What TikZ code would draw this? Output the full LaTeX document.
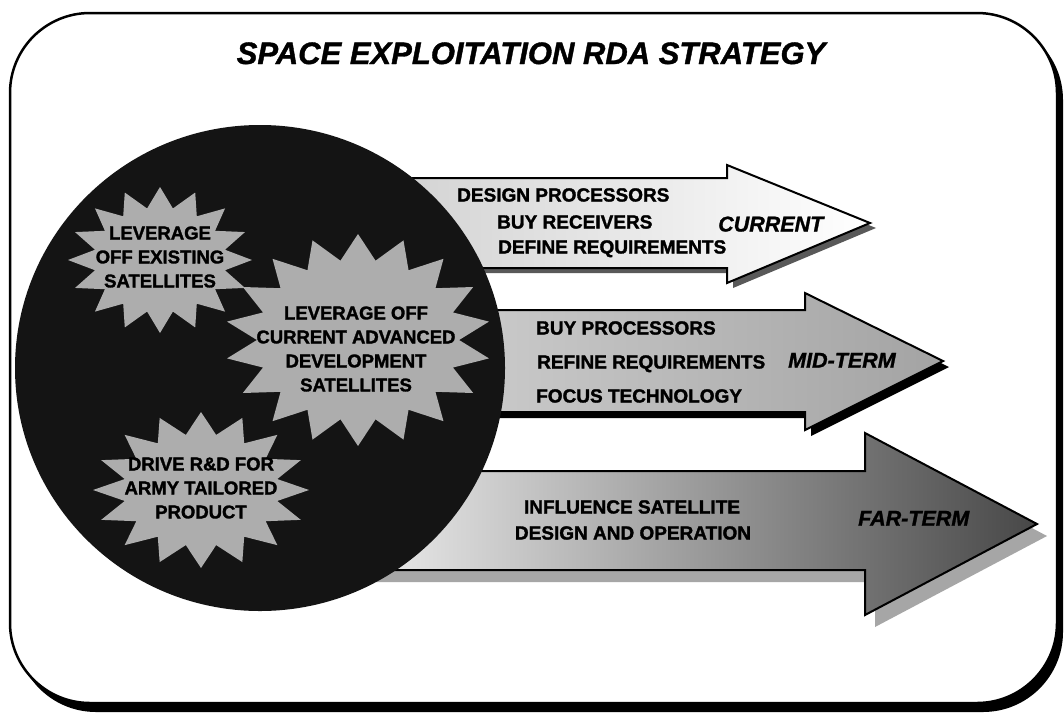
\documentclass[tikz,border=0pt]{standalone}
\usepackage{fontspec}
\setmainfont{Liberation Sans}
\newfontfamily\heavy[FakeBold=1.6]{Liberation Sans Bold}
\newfontfamily\heavyit[FakeBold=1.2]{Liberation Sans Bold Italic}
\usetikzlibrary{shapes.geometric}
\newcommand\mystar[7]{% cx cy rx ry 2n ratio phase
  \fill[starfill] ({#1+#3*cos(#7)},{#2+#4*sin(#7)})
    \foreach \k in {1,...,#5}{ -- ({#1+#3*ifthenelse(isodd(\k),#6,1)*cos(#7+\k*360/#5)},{#2+#4*ifthenelse(isodd(\k),#6,1)*sin(#7+\k*360/#5)}) } -- cycle;}
\begin{document}
\begin{tikzpicture}[x=1pt,y=-1pt,
  starfill/.style={fill=black!32},
  lbl/.style={font=\heavy\fontsize{19}{22}\selectfont, inner sep=0pt, anchor=base west},
  ctrlbl/.style={font=\heavy\fontsize{19}{22}\selectfont, inner sep=0pt, anchor=base},
  startxt/.style={font=\heavy\fontsize{18.5}{24}\selectfont, align=center, inner sep=0pt},
  term/.style={font=\heavyit\fontsize{21.5}{24}\selectfont, inner sep=0pt, anchor=base west},
  arrowline/.style={draw=black, line width=2pt, line join=miter},
]
\useasboundingbox (0,0) rectangle (1064,715);
% frame with shadow
\fill[black, rounded corners=80pt] (16,20) rectangle (1063,712);
\draw[line width=2.5pt, fill=white, rounded corners=80pt] (10,13) rectangle (1057,703);
% title
\node[font=\heavyit\fontsize{31}{36}\selectfont, inner sep=0pt, anchor=base] (title) at (531,64) {SPACE EXPLOITATION RDA STRATEGY};
% arrow 3 (far-term)
\fill[black!35] (360,483) -- (875,483) -- (875,445) -- (1047,536) -- (875,627) -- (875,582) -- (360,582) -- cycle;
\draw[arrowline, left color=black!6, right color=black!72] (350,471) -- (865,471) -- (865,433) -- (1037,524) -- (865,615) -- (865,570) -- (350,570) -- cycle;
% arrow 2 (mid-term)
\fill[black] (456,316) -- (811,316) -- (811,299) -- (949,367) -- (811,436) -- (811,418) -- (456,418) -- cycle;
\draw[arrowline, left color=black!20, right color=black!36] (450,310) -- (805,310) -- (805,293) -- (943,361) -- (805,430) -- (805,412) -- (450,412) -- cycle;
% arrow 1 (current)
\fill[black!65] (386,183) -- (733,183) -- (733,170) -- (876,228) -- (733,288) -- (733,273) -- (386,273) -- cycle;
\draw[arrowline, left color=black!18, middle color=white, right color=white] (380,178) -- (727,178) -- (727,165) -- (870,223) -- (727,283) -- (727,268) -- (380,268) -- cycle;
% dark disc
\fill[black!92] (260,368) ellipse [x radius=245, y radius=243];
% starbursts
\mystar{160}{260}{92}{73}{32}{0.72}{90}
\mystar{358}{340}{133}{106}{36}{0.76}{90}
\mystar{201}{490}{108}{78}{32}{0.72}{90}
% star texts
\node[startxt] (s1) at (160,257) {LEVERAGE\\OFF EXISTING\\SATELLITES};
\node[startxt] (s2) at (356,349) {LEVERAGE OFF\\CURRENT ADVANCED\\DEVELOPMENT\\SATELLITES};
\node[startxt] (s3) at (201,488) {DRIVE R\&D FOR\\ARMY TAILORED\\PRODUCT};
% arrow 1 texts
\node[lbl] (a1) at (457,201.5) {DESIGN PROCESSORS};
\node[lbl] (a2) at (497,228.5) {BUY RECEIVERS};
\node[lbl] (a3) at (498,253.5) {DEFINE REQUIREMENTS};
\node[term] (cur) at (718,231.5) {CURRENT};
% arrow 2 texts
\node[lbl] (b1) at (536,334.5) {BUY PROCESSORS};
\node[lbl] (b2) at (537,368.5) {REFINE REQUIREMENTS};
\node[lbl] (b3) at (536,402.5) {FOCUS TECHNOLOGY};
\node[term] (mid) at (788,367.7) {MID-TERM};
% arrow 3 texts
\node[ctrlbl] (c1) at (632,513.5) {INFLUENCE SATELLITE};
\node[ctrlbl] (c2) at (633,539.5) {DESIGN AND OPERATION};
\node[term] (far) at (858,525.7) {FAR-TERM};
\end{tikzpicture}
\end{document}
